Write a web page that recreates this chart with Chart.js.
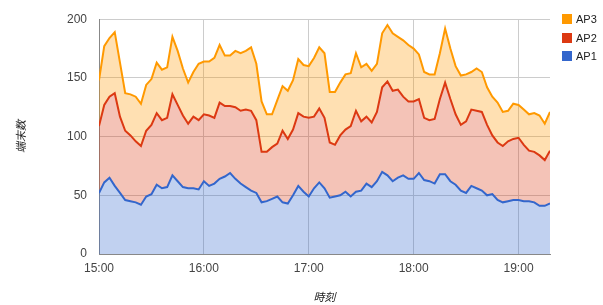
<!DOCTYPE html>
<html>
<head>
<meta charset="utf-8">
<script src="https://cdn.jsdelivr.net/npm/chart.js@4.4.1/dist/chart.umd.min.js"></script>
<style>
  body { margin: 0; background: #fff; }
  #wrap { position: relative; width: 603px; height: 305px; }
  #legend { position: absolute; left: 562px; top: 10px; font: 11px Arial, "Liberation Sans", sans-serif; color: #222; }
  .item { height: 18.5px; display: flex; align-items: center; }
  .box { width: 10px; height: 10px; margin-right: 4px; }
</style>
</head>
<body>
<div id="wrap">
  <canvas id="chart"></canvas>
  <div id="legend"></div>
</div>
<script>
// sample times (every 3 minutes)
const times = [
  '15:00','15:03','15:06','15:09','15:12','15:15','15:18','15:21','15:24','15:27',
  '15:30','15:33','15:36','15:39','15:42','15:45','15:48','15:51','15:54','15:57',
  '16:00','16:03','16:06','16:09','16:12','16:15','16:18','16:21','16:24','16:27',
  '16:30','16:33','16:36','16:39','16:42','16:45','16:48','16:51','16:54','16:57',
  '17:00','17:03','17:06','17:09','17:12','17:15','17:18','17:21','17:24','17:27',
  '17:30','17:33','17:36','17:39','17:42','17:45','17:48','17:51','17:54','17:57',
  '18:00','18:03','18:06','18:09','18:12','18:15','18:18','18:21','18:24','18:27',
  '18:30','18:33','18:36','18:39','18:42','18:45','18:48','18:51','18:54','18:57',
  '19:00','19:03','19:06','19:09','19:12','19:15','19:18'
];

const ap1 = [
  52,61,65,58,52,46,45,44,42,49,51,59,56,57,67,62,57,56,56,55,
  62,58,60,64,66,69,64,60,57,54,52,44,45,47,49,44,43,50,58,53,
  49,56,61,56,48,49,50,53,49,53,54,60,57,62,70,67,62,65,67,64,
  64,69,63,62,60,68,68,62,59,54,52,58,56,54,50,51,46,44,45,46,
  46,45,45,44,41,41,43
];
const ap2 = [
  57,66,69,79,65,59,56,52,50,56,59,61,58,59,69,65,61,55,61,59,
  57,60,56,65,60,57,61,62,66,68,62,43,42,44,45,61,55,56,62,64,
  67,61,63,60,47,44,51,53,60,69,59,57,55,59,72,80,77,75,67,66,
  66,63,53,52,55,64,78,70,60,56,61,65,66,67,60,50,49,48,51,52,
  53,48,43,43,43,39,45
];
const ap3 = [
  39,50,50,52,46,32,35,38,36,39,39,43,43,43,49,46,40,35,38,48,
  45,46,51,49,43,43,48,49,50,54,48,43,32,28,37,38,41,42,46,44,
  44,50,52,55,43,45,45,47,45,49,46,45,44,41,46,48,49,45,48,48,
  45,38,39,39,38,39,46,43,41,42,40,32,36,34,32,33,34,29,26,30,
  28,30,31,33,34,31,33
];

const xTicks = ['15:00', '16:00', '17:00', '18:00', '19:00'];
const yTicks = [0, 50, 100, 150, 200];

// minutes since 15:00
function toMin(t) {
  const p = t.split(':');
  return (+p[0]) * 60 + (+p[1]) - 900;
}
function series(vals) {
  return vals.map((v, i) => ({ x: toMin(times[i]), y: v }));
}

const tickFont = { family: 'Arial, "Liberation Sans", sans-serif', size: 12 };
const titleFont = { family: 'Arial, "Noto Sans CJK JP", sans-serif', size: 11, style: 'italic' };

const datasets = [
  { label: 'AP1', data: series(ap1), borderColor: '#3366cc', backgroundColor: 'rgba(51,102,204,0.3)', fill: 'origin' },
  { label: 'AP2', data: series(ap2), borderColor: '#dc3912', backgroundColor: 'rgba(220,57,18,0.3)', fill: '-1' },
  { label: 'AP3', data: series(ap3), borderColor: '#ff9900', backgroundColor: 'rgba(255,153,0,0.3)', fill: '-1' }
];
datasets.forEach(d => {
  d.borderWidth = 2;
  d.pointRadius = 0;
  d.tension = 0;
});

new Chart(document.getElementById('chart'), {
  type: 'line',
  data: { datasets: datasets },
  options: {
    responsive: true,
    maintainAspectRatio: false,
    animation: false,
    layout: { padding: { top: 14, right: 53, left: 0, bottom: 0 } },
    plugins: { legend: { display: false }, tooltip: { enabled: false } },
    scales: {
      x: {
        type: 'linear',
        min: 0,
        max: toMin(times[times.length - 1]),
        afterBuildTicks: s => { s.ticks = xTicks.map(t => ({ value: toMin(t) })); },
        afterFit: s => { s.height = 51; },
        ticks: {
          padding: 7,
          maxRotation: 0,
          color: '#444',
          font: tickFont,
          callback: v => xTicks.find(t => toMin(t) === v)
        },
        grid: { color: '#cccccc', drawTicks: false },
        border: { color: '#888', width: 1 },
        title: { display: true, text: '時刻', color: '#222', font: titleFont, padding: { top: 0, bottom: 0 } }
      },
      y: {
        stacked: true,
        min: 0,
        max: 200,
        afterBuildTicks: s => { s.ticks = yTicks.map(v => ({ value: v })); },
        afterFit: s => { s.width = 99; },
        ticks: { padding: 12, color: '#444', font: tickFont },
        grid: { color: '#cccccc', drawTicks: false },
        border: { color: '#888', width: 1 },
        title: { display: true, text: '端末数', color: '#222', font: titleFont, padding: { top: 15, bottom: 0 } }
      }
    }
  }
});

// legend on the right, top series first
const legend = document.getElementById('legend');
datasets.slice().reverse().forEach(d => {
  const row = document.createElement('div');
  row.className = 'item';
  const box = document.createElement('span');
  box.className = 'box';
  box.style.background = d.borderColor;
  row.appendChild(box);
  row.appendChild(document.createTextNode(d.label));
  legend.appendChild(row);
});
</script>
</body>
</html>
